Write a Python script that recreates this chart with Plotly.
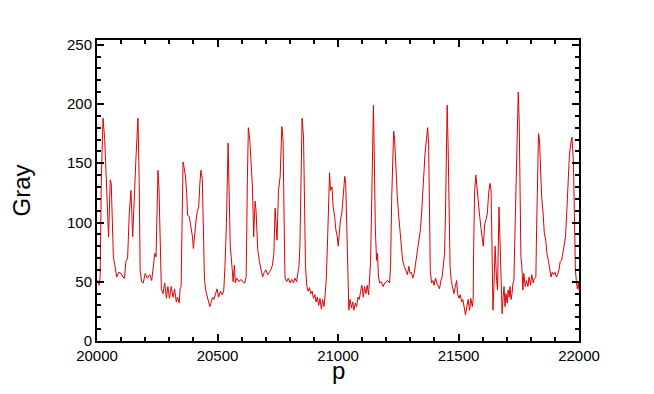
import plotly.graph_objects as go

# position along the profile and gray value
p = [
    20000, 20004, 20009, 20013, 20018, 20025, 20032, 20041, 20048, 20055, 20059, 20068,
    20075, 20082, 20090, 20100, 20107, 20114, 20120, 20127, 20134, 20141, 20148, 20155,
    20162, 20170, 20175, 20179, 20185, 20192, 20200, 20209, 20219, 20227, 20233, 20240,
    20245, 20249, 20253, 20257, 20262, 20267, 20274, 20281, 20288, 20294, 20301, 20308,
    20315, 20322, 20329, 20334, 20341, 20345, 20349, 20353, 20357, 20361, 20367, 20372,
    20376, 20383, 20390, 20396, 20400, 20405, 20411, 20416, 20422, 20426, 20431, 20437,
    20441, 20446, 20452, 20457, 20463, 20468, 20474, 20479, 20485, 20491, 20498, 20505,
    20512, 20520, 20526, 20531, 20537, 20544, 20548, 20553, 20560, 20565, 20570, 20574,
    20580, 20589, 20597, 20605, 20613, 20619, 20624, 20628, 20634, 20639, 20645, 20650,
    20656, 20660, 20667, 20674, 20680, 20687, 20694, 20701, 20708, 20715, 20721, 20728,
    20734, 20739, 20743, 20747, 20753, 20760, 20767, 20772, 20776, 20780, 20787, 20794,
    20801, 20808, 20815, 20821, 20828, 20834, 20838, 20842, 20847, 20851, 20857, 20861,
    20865, 20871, 20876, 20882, 20887, 20893, 20898, 20904, 20909, 20914, 20920, 20925,
    20931, 20936, 20942, 20947, 20951, 20956, 20961, 20965, 20969, 20975, 20980, 20986,
    20991, 20997, 21001, 21005, 21010, 21016, 21021, 21028, 21032, 21036, 21040, 21045,
    21050, 21056, 21061, 21066, 21072, 21077, 21083, 21088, 21094, 21099, 21105, 21110,
    21116, 21121, 21127, 21131, 21135, 21139, 21143, 21147, 21151, 21155, 21160, 21164,
    21168, 21173, 21180, 21187, 21194, 21201, 21207, 21214, 21218, 21223, 21227, 21231,
    21235, 21240, 21246, 21251, 21257, 21262, 21268, 21275, 21281, 21288, 21294, 21299,
    21305, 21310, 21316, 21321, 21327, 21332, 21338, 21342, 21347, 21354, 21361, 21368,
    21372, 21376, 21380, 21383, 21388, 21394, 21399, 21405, 21410, 21416, 21421, 21427,
    21432, 21437, 21442, 21446, 21450, 21453, 21457, 21461, 21465, 21470, 21476, 21481,
    21487, 21492, 21496, 21502, 21507, 21513, 21518, 21524, 21529, 21535, 21540, 21546,
    21551, 21557, 21561, 21563, 21567, 21572, 21577, 21583, 21588, 21594, 21599, 21603,
    21609, 21614, 21620, 21625, 21631, 21635, 21639, 21643, 21647, 21652, 21658, 21662,
    21668, 21672, 21677, 21681, 21685, 21689, 21693, 21697, 21702, 21706, 21710, 21714,
    21718, 21722, 21726, 21730, 21733, 21737, 21741, 21745, 21748, 21752, 21755, 21759,
    21763, 21767, 21771, 21777, 21782, 21788, 21793, 21799, 21804, 21810, 21815, 21821,
    21824, 21828, 21832, 21836, 21840, 21845, 21851, 21856, 21862, 21867, 21873, 21878,
    21884, 21889, 21895, 21900, 21906, 21911, 21917, 21922, 21928, 21933, 21938, 21944,
    21949, 21955, 21960, 21966, 21971, 21977, 21981, 21985, 21989, 21993, 21997, 22000,
]
gray = [
    50, 51, 47, 54, 136, 188, 170, 125, 88, 136, 133, 71,
    63, 54, 58, 57, 54, 53, 67, 70, 108, 127, 88, 127,
    156, 188, 136, 60, 50, 49, 57, 53, 56, 51, 61, 74,
    71, 113, 144, 130, 80, 44, 40, 49, 36, 46, 36, 46,
    37, 44, 33, 37, 32, 44, 46, 108, 151, 147, 139, 125,
    106, 105, 97, 88, 78, 91, 102, 109, 113, 130, 144, 137,
    97, 51, 42, 37, 33, 29, 33, 37, 35, 40, 44, 37,
    42, 39, 43, 63, 99, 167, 130, 80, 63, 50, 64, 49,
    53, 50, 52, 50, 49, 54, 136, 180, 170, 150, 130, 88,
    118, 110, 77, 67, 60, 54, 58, 60, 56, 58, 60, 64,
    74, 112, 102, 85, 127, 139, 181, 170, 108, 54, 50, 53,
    49, 52, 49, 53, 50, 56, 63, 80, 136, 188, 172, 108,
    63, 46, 42, 45, 40, 42, 36, 39, 33, 37, 30, 36,
    27, 35, 29, 40, 51, 80, 122, 142, 127, 130, 113, 105,
    94, 88, 80, 94, 102, 108, 122, 139, 133, 94, 51, 26,
    35, 28, 33, 26, 32, 29, 37, 35, 42, 47, 37, 46,
    40, 47, 39, 51, 66, 108, 164, 199, 150, 94, 68, 74,
    54, 49, 50, 46, 49, 50, 51, 49, 63, 122, 164, 177,
    170, 142, 122, 108, 94, 80, 68, 63, 60, 56, 63, 57,
    58, 53, 57, 64, 71, 80, 90, 94, 108, 136, 158, 172,
    180, 167, 108, 60, 49, 51, 47, 53, 49, 46, 44, 51,
    54, 63, 74, 108, 164, 199, 164, 102, 63, 51, 43, 40,
    46, 51, 40, 36, 39, 33, 35, 29, 22, 29, 35, 26,
    36, 29, 35, 80, 127, 140, 127, 113, 105, 94, 85, 80,
    99, 102, 108, 125, 133, 127, 80, 26, 46, 80, 51, 43,
    113, 80, 34, 23, 37, 46, 29, 40, 32, 43, 37, 46,
    35, 40, 49, 51, 80, 122, 164, 198, 210, 184, 122, 71,
    63, 43, 57, 46, 51, 46, 54, 47, 56, 49, 53, 54,
    94, 150, 175, 170, 147, 122, 108, 91, 85, 74, 68, 60,
    54, 58, 56, 58, 54, 56, 60, 67, 68, 74, 80, 88,
    108, 136, 156, 167, 172, 150, 94, 60, 51, 44, 49, 43,
]

x_ticks = [20000, 20500, 21000, 21500, 22000]
x_labels = ["20000", "20500", "21000", "21500", "22000"]
y_ticks = [0, 50, 100, 150, 200, 250]
y_labels = ["0", "50", "100", "150", "200", "250"]

fig = go.Figure(go.Scatter(
    x=p, y=gray, mode="lines",
    line=dict(color="rgb(225,0,0)", width=1),
    showlegend=False,
))

axis_style = dict(
    showline=True, linecolor="black", linewidth=2, mirror="allticks",
    ticks="inside", ticklen=7, tickwidth=1.5, tickcolor="black",
    showgrid=False, zeroline=False,
    tickfont=dict(family="Liberation Sans, Arial", size=15, color="black"),
)

fig.update_layout(
    width=654, height=394,
    paper_bgcolor="white", plot_bgcolor="white",
    margin=dict(l=83, r=83, t=32, b=61),
    font=dict(family="Liberation Sans, Arial", color="black"),
    xaxis=dict(
        range=[20000, 22000], tickvals=x_ticks, ticktext=x_labels,
        minor=dict(ticks="inside", ticklen=4, dtick=100, tickcolor="black"),
        **axis_style,
    ),
    yaxis=dict(
        range=[0, 254], tickvals=y_ticks, ticktext=y_labels,
        minor=dict(ticks="inside", ticklen=4, dtick=10, tickcolor="black"),
        title=dict(text="Gray", font=dict(size=24), standoff=30),
        **axis_style,
    ),
    # x title placed as an annotation so it can sit close under the tick labels
    annotations=[dict(
        text="p", xref="paper", yref="paper", x=0.5, y=0,
        xanchor="center", yanchor="middle", yshift=-29, showarrow=False,
        font=dict(family="Liberation Sans, Arial", size=24, color="black"),
    )],
)

fig.write_html("out.html")
